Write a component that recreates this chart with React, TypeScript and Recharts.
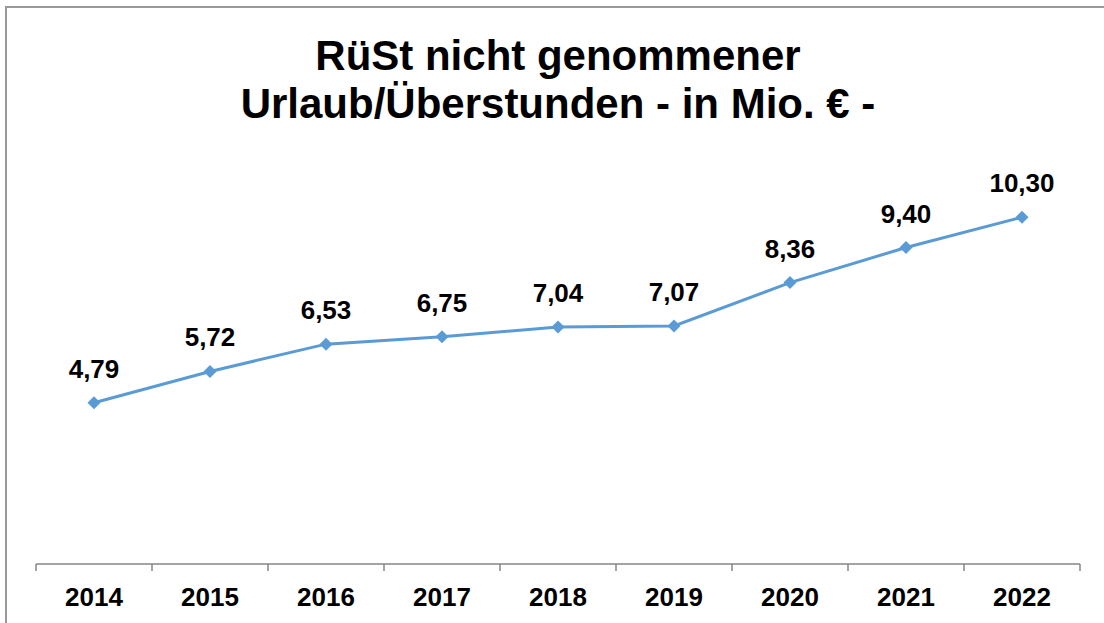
import React from 'react';
import { ComposedChart, Line, XAxis, YAxis, LabelList } from 'recharts';

const years = ['2014', '2015', '2016', '2017', '2018', '2019', '2020', '2021', '2022'];
const values = [4.79, 5.72, 6.53, 6.75, 7.04, 7.07, 8.36, 9.4, 10.3];
const titleLines = ['RüSt nicht genommener', 'Urlaub/Überstunden - in Mio. € -'];

const data = years.map((y, i) => ({ year: y, value: values[i] }));

const W = 1104;
const H = 623;
const M = { top: 160, left: 36, right: 24, bottom: 19 };
const BW = (W - M.left - M.right) / years.length;
const FONT = "'Liberation Sans', Arial, sans-serif";
const AXIS_COLOR = '#868686';
const LINE_COLOR = '#5b9bd5';

const fmt = (v: number) => v.toFixed(2).replace('.', ',');

const Tick = (props: any) => {
  const { x, y, payload, index } = props;
  return (
    <g>
      <line x1={x - BW / 2} x2={x - BW / 2} y1={y} y2={y + 7} stroke={AXIS_COLOR} strokeWidth={1.5} />
      {index === years.length - 1 && (
        <line x1={x + BW / 2} x2={x + BW / 2} y1={y} y2={y + 7} stroke={AXIS_COLOR} strokeWidth={1.5} />
      )}
      <text x={x} y={y + 42} textAnchor="middle" fontFamily={FONT} fontWeight="bold" fontSize={26} fill="#000">
        {payload.value}
      </text>
    </g>
  );
};

const Diamond = (props: any) => {
  const { cx, cy } = props;
  const r = 6.5;
  return <path d={`M${cx},${cy - r}L${cx + r},${cy}L${cx},${cy + r}L${cx - r},${cy}Z`} fill={LINE_COLOR} />;
};

export default function App() {
  return (
    <div style={{ position: 'absolute', left: 0, top: 0, width: W, height: H, overflow: 'hidden', background: '#fff' }}>
      <div
        style={{
          position: 'absolute',
          left: 5,
          top: 6,
          width: W,
          height: H,
          borderLeft: '2px solid #999',
          borderTop: '2px solid #999',
        }}
      />
      <div
        style={{
          position: 'absolute',
          left: 6,
          top: 32,
          width: W,
          textAlign: 'center',
          fontFamily: FONT,
          fontWeight: 'bold',
          fontSize: 42,
          lineHeight: '48px',
          color: '#000',
        }}
      >
        {titleLines.map((t) => (
          <div key={t}>{t}</div>
        ))}
      </div>
      <div style={{ position: 'absolute', left: 0, top: 0 }}>
        <ComposedChart width={W} height={H} data={data} margin={M}>
          <XAxis
            dataKey="year"
            scale="band"
            height={40}
            tickSize={0}
            tickMargin={0}
            tickLine={false}
            axisLine={{ stroke: AXIS_COLOR, strokeWidth: 1.5 }}
            tick={<Tick />}
            interval={0}
          />
          <YAxis hide domain={[0, 12]} />
          <Line
            dataKey="value"
            stroke={LINE_COLOR}
            strokeWidth={3}
            dot={<Diamond />}
            activeDot={false}
            isAnimationActive={false}
          >
            <LabelList
              dataKey="value"
              position="top"
              offset={25}
              formatter={(v: any) => fmt(Number(v))}
              fill="#000"
              fontSize={26}
              fontWeight="bold"
              fontFamily={FONT}
            />
          </Line>
        </ComposedChart>
      </div>
    </div>
  );
}
